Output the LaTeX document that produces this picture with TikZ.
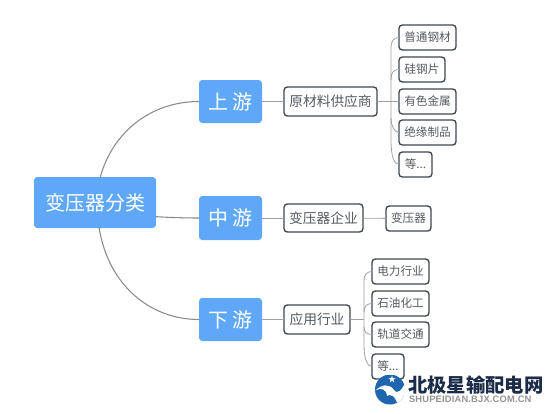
\documentclass[tikz,border=0pt]{standalone}
\usepackage{fontspec}
\setmainfont{Noto Sans CJK SC}
\newfontfamily\latinb[LetterSpace=2]{Liberation Sans}
\definecolor{mblue}{HTML}{5FA8F8}
\definecolor{medge}{HTML}{3F4650}
\definecolor{mline}{HTML}{8A8A8A}
\definecolor{mtext}{HTML}{555A60}
\definecolor{logob}{HTML}{1F66AE}
\definecolor{logot}{HTML}{1C2C48}
\tikzset{
 px/.style={inner sep=0pt,outer sep=0pt},
 rootbox/.style={px,rounded corners=2.5pt,fill=mblue,text=white},
 midbox/.style={rootbox,font=\fontsize{15}{15}\selectfont},
 subbox/.style={px,draw=medge,line width=1pt,rounded corners=2.5pt,fill=white,text=mtext,font=\fontsize{10.3}{11}\selectfont},
 leafbox/.style={px,draw=medge,line width=1pt,rounded corners=2.5pt,fill=white,text=mtext,font=\fontsize{8.7}{9}\selectfont},
 link/.style={draw=mline,line width=0.8pt},
 thinlink/.style={draw=mline!80,line width=0.6pt},
}
\newcommand{\bx}[6]{\node[#1,minimum width=#4*0.75pt-#3*0.75pt,minimum height=#6*0.75pt-#5*0.75pt] (#2) at ({(#3+#4)/2},{(#5+#6)/2})}
\begin{document}
\begin{tikzpicture}[x=0.75pt,y=-0.75pt]
\useasboundingbox (0,0) rectangle (550,414);
\fill[white] (0,0) rectangle (550,414);
% connectors first, so the boxes sit on top
\coordinate (r1) at (100,178);
\coordinate (r2) at (156,216.7);
\coordinate (r3) at (99,227);
\coordinate (j1) at (391,101.5);
\coordinate (j3) at (364,319.5);
% nodes
\bx{rootbox,font=\fontsize{15}{15}\selectfont}{root}{34}{156}{177}{228} {变压器分类};
\bx{midbox}{up}{199}{262}{80}{123} {上 游};
\bx{midbox}{mid}{199}{262}{196}{240} {中 游};
\bx{midbox}{down}{199}{262}{298}{341} {下 游};
\bx{subbox}{s1}{284}{377}{87}{116} {原材料供应商};
\bx{subbox}{s2}{284}{363}{204}{232} {变压器企业};
\bx{subbox}{s3}{284}{350}{305}{334} {应用行业};
\bx{leafbox}{a1}{399}{456}{25}{50} {普通钢材};
\bx{leafbox}{a2}{399}{445}{57}{82} {硅钢片};
\bx{leafbox}{a3}{399}{456}{89}{114} {有色金属};
\bx{leafbox}{a4}{399}{456}{120}{145} {绝缘制品};
\bx{leafbox}{a5}{399}{432}{152}{177} {等...};
\bx{leafbox}{b1}{386}{431}{206}{231} {变压器};
\bx{leafbox}{c1}{372}{429}{259}{284} {电力行业};
\bx{leafbox}{c2}{372}{429}{291}{316} {石油化工};
\bx{leafbox}{c3}{372}{429}{322}{347} {轨道交通};
\bx{leafbox}{c4}{372}{404}{354}{379} {等...};
\draw[link] (r1) .. controls (112,133) and (150,101.5) .. (up.west);
\draw[link] (r2) .. controls (170,217.5) and (185,218) .. (mid.west);
\draw[link] (r3) .. controls (108,285) and (150,319.5) .. (down.west);
\draw[thinlink] (up) -- (s1);
\draw[thinlink] (mid) -- (s2);
\draw[thinlink] (down) -- (s3);
\draw[thinlink] (s2) -- (b1);
\draw[thinlink] (s1) -- (a3);
\draw[thinlink] (a1.west) .. controls (394,38) and (391,40) .. (391,48) -- (391,140) .. controls (391,156) and (394,164.5) .. (a5.west);
\draw[thinlink] (a2.west) .. controls (394,69.5) and (391,72) .. (391,80);
\draw[thinlink] (a4.west) .. controls (394,132.5) and (391,125) .. (391,118);
\draw[thinlink] (s3) -- (j3);
\draw[thinlink] (c1.west) .. controls (367,271.5) and (364,274) .. (364,282) -- (364,345) .. controls (364,358) and (367,366.5) .. (c4.west);
\draw[thinlink] (c2.west) .. controls (367,303.5) and (364,306) .. (364,312);
\draw[thinlink] (c3.west) .. controls (367,334.5) and (364,332) .. (364,327);
% watermark
\begin{scope}
\clip (390,389.5) circle (15);
\fill[logob] (375,375) rectangle (405,405);
\fill[white] (374,392) .. controls (382,383) and (390,384) .. (394,390) .. controls (398,395) and (402,390) .. (406,381) -- (406,406) -- (398,406) .. controls (396,396) and (390,393) .. (387,396) .. controls (386,400) and (386,403) .. (384,406) -- (374,406) -- cycle;
\fill[logob] (375,391) .. controls (381,387) and (386,389) .. (387,396) .. controls (388,400) and (387,403) .. (386,406) -- (374,406) -- cycle;
\end{scope}
\node[px,text=white,font=\fontsize{6}{6}\selectfont] (star) at (392,379) {★};
\node[px,anchor=west,text=logot,font=\bfseries\fontsize{14.5}{15}\selectfont] (wm) at (408,385) {北极星输配电网};
\node[px,anchor=west,text=black!42,font=\latinb\bfseries\fontsize{7}{7}\selectfont] (wm2) at (409,399) {SHUPEIDIAN.BJX.COM.CN};
\end{tikzpicture}
\end{document}
